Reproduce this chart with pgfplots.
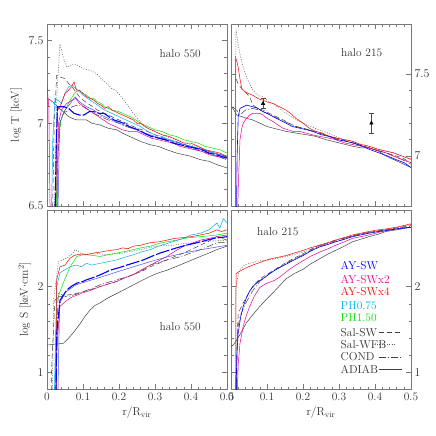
\documentclass[border=0pt]{standalone}
\usepackage{pgfplots}
\pgfplotsset{compat=1.18}

\definecolor{frame}{RGB}{120,120,120}
\definecolor{txt}{RGB}{50,50,50}

\tikzset{
  ays/.style={blue, line width=1.1pt, dash pattern=on 14pt off 2pt},
  ays2/.style={blue!70!white},
  ayx2/.style={magenta},
  ayx4/.style={red},
  ph75/.style={cyan},
  ph15/.style={green!90!black},
  salsw/.style={black!75, dash pattern=on 5pt off 3pt},
  salwfb/.style={black!65, dash pattern=on 1pt off 1.5pt},
  cond/.style={black!75, dash pattern=on 7pt off 2pt on 1pt off 2pt},
  adiab/.style={black!75},
}
\pgfplotsset{
  panel/.style={
    scale only axis, width=180bp,
    xmin=0, xmax=0.5,
    xtick={0,0.1,0.2,0.3,0.4,0.5},
    minor x tick num=4, minor y tick num=4,
    tick align=inside, xtick pos=both, ytick pos=both,
    major tick length=5bp, minor tick length=2.5bp,
    axis line style={frame, line width=0.6pt},
    tick style={frame, line width=0.5pt},
    font=\fontsize{11.5}{13}\selectfont\color{txt},
    tick label style={font=\fontsize{11.5}{13}\selectfont\color{txt}},
    unbounded coords=jump,
    every axis plot/.append style={line width=0.5pt},
  },
}

\begin{document}
\begin{tikzpicture}
\path[use as bounding box] (0,0) rectangle (436bp,-436bp);

% ---------- log T, halo 550 ----------
\begin{axis}[panel, at={(47bp,-24bp)}, anchor=north west, height=182bp,
  ymin=6.5, ymax=7.6, ytick={6.5,7,7.5}, xticklabels={},
  ylabel={log T [keV]}]
\addplot[adiab] coordinates {(0.0,7.15)(0.01,7.14)(0.02,7.12)(0.03,7.10)(0.04,7.08)(0.05,7.06)(0.06,7.04)(0.07,7.03)(0.083,7.02)(0.095,7.02)(0.11,7.02)(0.125,7.0)(0.147,6.99)(0.17,6.97)(0.194,6.96)(0.21,6.94)(0.24,6.91)(0.26,6.89)(0.287,6.87)(0.31,6.86)(0.333,6.84)(0.36,6.82)(0.38,6.81)(0.4,6.8)(0.426,6.78)(0.45,6.77)(0.472,6.75)(0.5,6.73)};
\addplot[cond] coordinates {(0.025,6.4)(0.03,6.8)(0.038,7.02)(0.045,7.06)(0.06,7.08)(0.07,7.10)(0.085,7.11)(0.1,7.1)(0.115,7.08)(0.13,7.06)(0.15,7.04)(0.17,7.02)(0.2,7.0)(0.22,6.98)(0.25,6.96)(0.28,6.93)(0.31,6.91)(0.34,6.89)(0.37,6.87)(0.4,6.85)(0.43,6.83)(0.46,6.81)(0.5,6.78)};
\addplot[salwfb] coordinates {(0.02,6.4)(0.028,7.2)(0.036,7.48)(0.045,7.40)(0.055,7.34)(0.065,7.35)(0.075,7.36)(0.085,7.35)(0.1,7.33)(0.12,7.32)(0.138,7.30)(0.15,7.27)(0.166,7.24)(0.18,7.21)(0.19,7.2)(0.203,7.17)(0.22,7.12)(0.24,7.06)(0.255,7.02)(0.27,6.98)(0.3,6.95)(0.33,6.92)(0.36,6.9)(0.4,6.87)(0.43,6.85)(0.46,6.82)(0.5,6.80)};
\addplot[salsw] coordinates {(0.015,6.4)(0.02,7.0)(0.027,7.29)(0.035,7.28)(0.05,7.27)(0.06,7.24)(0.07,7.22)(0.08,7.19)(0.09,7.16)(0.1,7.14)(0.12,7.11)(0.14,7.08)(0.16,7.06)(0.18,7.04)(0.2,7.02)(0.22,7.0)(0.25,6.97)(0.28,6.95)(0.31,6.92)(0.34,6.9)(0.37,6.88)(0.4,6.86)(0.43,6.84)(0.46,6.81)(0.5,6.78)};
\addplot[ph15] coordinates {(0.025,6.4)(0.03,6.9)(0.04,7.03)(0.05,7.08)(0.06,7.12)(0.07,7.16)(0.08,7.19)(0.09,7.2)(0.1,7.18)(0.11,7.17)(0.12,7.15)(0.13,7.15)(0.14,7.13)(0.15,7.12)(0.16,7.1)(0.18,7.08)(0.2,7.07)(0.22,7.05)(0.24,7.03)(0.26,7.0)(0.28,6.98)(0.3,6.96)(0.32,6.95)(0.34,6.93)(0.36,6.92)(0.38,6.9)(0.4,6.89)(0.42,6.88)(0.44,6.86)(0.46,6.85)(0.48,6.84)(0.5,6.82)};
\addplot[ph75] coordinates {(0.012,6.4)(0.016,6.9)(0.022,7.15)(0.03,7.14)(0.04,7.12)(0.05,7.18)(0.06,7.22)(0.07,7.23)(0.08,7.21)(0.09,7.19)(0.1,7.17)(0.12,7.14)(0.14,7.11)(0.16,7.08)(0.18,7.06)(0.2,7.04)(0.22,7.02)(0.24,7.0)(0.26,6.98)(0.28,6.95)(0.3,6.93)(0.32,6.92)(0.34,6.9)(0.36,6.89)(0.38,6.87)(0.4,6.86)(0.42,6.85)(0.44,6.84)(0.46,6.82)(0.48,6.81)(0.5,6.80)};
\addplot[ayx4] coordinates {(0.024,6.4)(0.027,6.9)(0.03,7.08)(0.04,7.12)(0.05,7.18)(0.06,7.20)(0.068,7.22)(0.075,7.25)(0.082,7.2)(0.09,7.2)(0.1,7.18)(0.11,7.16)(0.12,7.15)(0.13,7.14)(0.14,7.12)(0.15,7.11)(0.16,7.09)(0.17,7.1)(0.18,7.08)(0.19,7.07)(0.2,7.06)(0.21,7.05)(0.22,7.04)(0.23,7.03)(0.24,7.02)(0.25,7.0)(0.26,7.0)(0.28,6.97)(0.3,6.95)(0.32,6.93)(0.34,6.92)(0.36,6.90)(0.38,6.88)(0.4,6.88)(0.42,6.86)(0.44,6.84)(0.46,6.83)(0.48,6.82)(0.5,6.80)};
\addplot[ayx2] coordinates {(0,7.23)(0.005,7.1)(0.009,6.4)(0.018,nan)(0.028,6.4)(0.032,7.0)(0.04,7.08)(0.055,7.12)(0.07,7.14)(0.08,7.15)(0.09,7.12)(0.11,7.09)(0.13,7.06)(0.15,7.03)(0.17,7.0)(0.19,6.98)(0.21,6.96)(0.23,6.95)(0.25,6.95)(0.27,6.93)(0.29,6.91)(0.31,6.90)(0.33,6.89)(0.35,6.88)(0.37,6.86)(0.39,6.85)(0.41,6.84)(0.43,6.83)(0.45,6.81)(0.47,6.80)(0.5,6.79)};
\addplot[ays2] coordinates {(0.03,6.4)(0.035,7.0)(0.05,7.08)(0.065,7.12)(0.078,7.16)(0.09,7.13)(0.11,7.10)(0.13,7.08)(0.15,7.05)(0.17,7.03)(0.2,7.0)(0.23,6.98)(0.26,6.95)(0.3,6.92)(0.35,6.89)(0.4,6.86)(0.45,6.83)(0.5,6.80)};
\addplot[ays] coordinates {(0.022,6.4)(0.026,6.9)(0.029,7.10)(0.047,7.10)(0.06,7.09)(0.075,7.06)(0.09,7.05)(0.103,7.05)(0.117,7.07)(0.13,7.07)(0.145,7.06)(0.158,7.06)(0.172,7.04)(0.186,7.02)(0.2,7.01)(0.214,7.0)(0.228,6.98)(0.24,6.97)(0.255,6.96)(0.27,6.94)(0.29,6.92)(0.31,6.91)(0.33,6.90)(0.35,6.88)(0.37,6.87)(0.39,6.86)(0.41,6.85)(0.43,6.84)(0.45,6.82)(0.47,6.81)(0.5,6.79)};
\node at (axis cs:0.37,7.42) {halo 550};
\end{axis}

% ---------- log T, halo 215 ----------
\begin{axis}[panel, at={(231bp,-24bp)}, anchor=north west, height=182bp,
  ymin=6.695, ymax=7.805, ytick={7,7.5}, xticklabels={},
  yticklabel pos=right]
\addplot[adiab] coordinates {(0.002,7.30)(0.008,7.28)(0.016,7.25)(0.03,7.24)(0.043,7.23)(0.06,7.22)(0.08,7.20)(0.1,7.18)(0.117,7.17)(0.135,7.16)(0.153,7.15)(0.18,7.14)(0.208,7.13)(0.235,7.12)(0.263,7.10)(0.3,7.08)(0.337,7.06)(0.36,7.05)(0.383,7.05)(0.41,7.03)(0.43,7.0)(0.46,6.97)(0.5,6.93)};
\addplot[cond] coordinates {(0.006,7.30)(0.015,7.28)(0.025,7.25)(0.04,7.28)(0.06,7.29)(0.08,7.28)(0.1,7.26)(0.12,7.24)(0.14,7.22)(0.16,7.20)(0.18,7.18)(0.2,7.17)(0.245,7.14)(0.29,7.11)(0.337,7.08)(0.383,7.05)(0.43,7.02)(0.474,6.98)(0.5,6.95)};
\addplot[salwfb] coordinates {(0.012,6.6)(0.013,7.6)(0.014,7.77)(0.02,7.68)(0.027,7.6)(0.034,7.54)(0.045,7.47)(0.061,7.40)(0.075,7.37)(0.089,7.36)(0.1,7.34)(0.117,7.32)(0.135,7.29)(0.153,7.26)(0.175,7.23)(0.2,7.2)(0.22,7.18)(0.245,7.16)(0.27,7.14)(0.29,7.12)(0.315,7.10)(0.337,7.09)(0.36,7.07)(0.383,7.06)(0.41,7.04)(0.43,7.03)(0.45,7.02)(0.474,7.0)(0.5,6.98)};
\addplot[salsw] coordinates {(0.014,7.47)(0.02,7.44)(0.03,7.41)(0.04,7.39)(0.052,7.36)(0.061,7.31)(0.075,7.29)(0.089,7.28)(0.107,7.26)(0.126,7.24)(0.145,7.22)(0.162,7.2)(0.18,7.18)(0.2,7.17)(0.245,7.14)(0.29,7.11)(0.337,7.08)(0.383,7.05)(0.43,7.02)(0.474,6.99)(0.5,6.96)};
\addplot[ayx4] coordinates {(0.013,6.6)(0.013,7.6)(0.017,7.57)(0.02,7.54)(0.025,7.47)(0.03,7.41)(0.04,7.39)(0.05,7.38)(0.061,7.37)(0.075,7.35)(0.089,7.34)(0.1,7.33)(0.117,7.32)(0.135,7.30)(0.153,7.28)(0.165,7.26)(0.18,7.23)(0.2,7.20)(0.217,7.17)(0.235,7.15)(0.254,7.14)(0.27,7.12)(0.29,7.11)(0.315,7.10)(0.337,7.09)(0.36,7.07)(0.383,7.06)(0.41,7.04)(0.43,7.03)(0.45,7.02)(0.474,7.0)(0.5,6.98)};
\addplot[ayx2] coordinates {(0.018,6.6)(0.02,6.8)(0.025,7.10)(0.03,7.17)(0.034,7.2)(0.043,7.23)(0.052,7.25)(0.061,7.26)(0.071,7.26)(0.08,7.26)(0.089,7.25)(0.1,7.23)(0.117,7.21)(0.13,7.19)(0.144,7.17)(0.158,7.16)(0.172,7.15)(0.19,7.15)(0.208,7.14)(0.225,7.13)(0.245,7.12)(0.27,7.11)(0.29,7.10)(0.315,7.08)(0.337,7.07)(0.36,7.06)(0.383,7.05)(0.41,7.03)(0.43,7.02)(0.45,7.0)(0.474,6.98)(0.5,6.96)};
\addplot[blue, line width=0.6pt] coordinates {(0.015,6.6)(0.017,7.0)(0.02,7.24)(0.025,7.29)(0.034,7.30)(0.043,7.31)(0.061,7.30)(0.075,7.29)(0.089,7.27)(0.1,7.26)(0.117,7.24)(0.135,7.22)(0.153,7.20)(0.17,7.18)(0.19,7.17)(0.21,7.16)(0.227,7.15)(0.25,7.13)(0.272,7.12)(0.295,7.10)(0.318,7.09)(0.34,7.08)(0.364,7.06)(0.385,7.04)(0.41,7.02)(0.435,7.0)(0.456,6.98)(0.48,6.96)(0.5,6.93)};
\addplot[black, only marks, mark=triangle*, mark size=2pt,
  error bars/.cd, y dir=both, y explicit,
  error bar style={black!70, line width=0.5pt}, error mark options={rotate=90, mark size=2.5pt, black!70}]
  coordinates {(0.089,7.32) +- (0,0.03) (0.39,7.20) +- (0,0.06)};
\node at (axis cs:0.363,7.63) {halo 215};
\end{axis}

% ---------- log S, halo 550 ----------
\begin{axis}[panel, at={(47bp,-210bp)}, anchor=north west, height=179bp,
  ymin=0.81, ymax=2.89, ytick={1,2},
  xticklabels={0,0.1,0.2,0.3,0.4,0.5}, xticklabel pos=lower,
  ylabel={log S [keV$\cdot$cm$^2$]}, xlabel={r/R$_{\mathrm{vir}}$}]
\addplot[adiab] coordinates {(0,1.32)(0.02,1.33)(0.045,1.34)(0.055,1.38)(0.064,1.42)(0.078,1.49)(0.092,1.57)(0.105,1.65)(0.12,1.73)(0.133,1.78)(0.147,1.81)(0.17,1.87)(0.194,1.92)(0.217,1.97)(0.24,2.02)(0.263,2.07)(0.287,2.12)(0.31,2.16)(0.333,2.19)(0.357,2.23)(0.38,2.27)(0.403,2.31)(0.426,2.35)(0.45,2.39)(0.472,2.43)(0.5,2.47)};
\addplot[cond] coordinates {(0.025,0.7)(0.03,1.8)(0.032,1.92)(0.055,1.88)(0.08,1.91)(0.1,1.94)(0.125,1.98)(0.147,2.02)(0.17,2.05)(0.194,2.08)(0.22,2.11)(0.24,2.14)(0.265,2.19)(0.287,2.25)(0.31,2.28)(0.333,2.31)(0.355,2.33)(0.38,2.36)(0.4,2.39)(0.426,2.43)(0.45,2.47)(0.472,2.51)(0.5,2.51)};
\addplot[salwfb] coordinates {(0.015,0.7)(0.018,1.84)(0.032,2.29)(0.055,2.33)(0.07,2.38)(0.078,2.43)(0.09,2.40)(0.1,2.37)(0.115,2.38)(0.13,2.39)(0.15,2.38)(0.166,2.37)(0.19,2.38)(0.21,2.39)(0.235,2.41)(0.26,2.43)(0.28,2.45)(0.305,2.47)(0.33,2.48)(0.35,2.48)(0.38,2.50)(0.426,2.52)(0.46,2.53)(0.5,2.54)};
\addplot[salsw] coordinates {(0.012,0.7)(0.013,1.07)(0.022,1.84)(0.032,1.88)(0.055,1.90)(0.08,1.92)(0.1,1.94)(0.125,1.97)(0.147,2.0)(0.17,2.03)(0.194,2.06)(0.215,2.10)(0.24,2.14)(0.265,2.18)(0.287,2.23)(0.31,2.27)(0.333,2.31)(0.355,2.35)(0.38,2.39)(0.4,2.43)(0.426,2.48)(0.45,2.53)(0.472,2.58)(0.5,2.54)};
\addplot[ph15] coordinates {(0.022,0.7)(0.027,1.84)(0.045,2.04)(0.064,2.23)(0.083,2.35)(0.1,2.37)(0.11,2.37)(0.13,2.36)(0.147,2.35)(0.17,2.37)(0.194,2.39)(0.22,2.41)(0.24,2.43)(0.26,2.45)(0.287,2.47)(0.31,2.5)(0.333,2.52)(0.36,2.54)(0.38,2.56)(0.4,2.57)(0.426,2.58)(0.45,2.59)(0.472,2.60)(0.5,2.62)};
\addplot[ph75] coordinates {(0.02,0.7)(0.027,2.0)(0.036,2.16)(0.055,2.21)(0.07,2.24)(0.083,2.25)(0.095,2.23)(0.11,2.27)(0.125,2.25)(0.147,2.27)(0.17,2.29)(0.194,2.31)(0.215,2.34)(0.24,2.37)(0.26,2.4)(0.287,2.43)(0.31,2.47)(0.333,2.5)(0.355,2.53)(0.38,2.56)(0.4,2.6)(0.426,2.62)(0.45,2.66)(0.472,2.74)(0.48,2.68)(0.49,2.79)(0.5,2.74)};
\addplot[ayx4] coordinates {(0.024,0.7)(0.027,2.08)(0.036,2.23)(0.05,2.25)(0.064,2.33)(0.075,2.36)(0.083,2.37)(0.1,2.38)(0.11,2.37)(0.13,2.39)(0.147,2.40)(0.16,2.41)(0.175,2.42)(0.194,2.43)(0.21,2.45)(0.225,2.44)(0.24,2.47)(0.26,2.48)(0.287,2.51)(0.31,2.52)(0.333,2.54)(0.355,2.56)(0.38,2.57)(0.4,2.58)(0.426,2.60)(0.45,2.62)(0.472,2.66)(0.485,2.64)(0.5,2.66)};
\addplot[ayx2] coordinates {(0.026,0.7)(0.027,1.26)(0.036,1.77)(0.055,1.84)(0.07,1.88)(0.083,1.90)(0.1,1.93)(0.11,1.94)(0.13,1.97)(0.147,2.0)(0.17,2.03)(0.194,2.06)(0.215,2.10)(0.24,2.14)(0.26,2.19)(0.287,2.25)(0.31,2.30)(0.333,2.35)(0.355,2.41)(0.38,2.47)(0.4,2.50)(0.426,2.54)(0.45,2.56)(0.472,2.58)(0.5,2.60)};
\addplot[ays2] coordinates {(0.03,0.7)(0.035,1.8)(0.05,1.93)(0.08,2.02)(0.11,2.06)(0.15,2.11)(0.194,2.17)(0.24,2.23)(0.287,2.29)(0.33,2.34)(0.38,2.39)(0.43,2.43)(0.5,2.48)};
\addplot[ays] coordinates {(0.025,0.7)(0.027,1.46)(0.036,1.84)(0.055,1.96)(0.07,2.01)(0.083,2.04)(0.1,2.06)(0.11,2.08)(0.125,2.10)(0.138,2.12)(0.155,2.15)(0.175,2.19)(0.2,2.22)(0.222,2.25)(0.245,2.28)(0.268,2.31)(0.29,2.35)(0.314,2.39)(0.337,2.42)(0.36,2.45)(0.385,2.48)(0.407,2.50)(0.435,2.53)(0.463,2.56)(0.5,2.58)};
\node at (axis cs:0.37,1.535) {halo 550};
\end{axis}

% ---------- log S, halo 215 ----------
\begin{axis}[panel, at={(231bp,-210bp)}, anchor=north west, height=179bp,
  ymin=0.81, ymax=2.89, ytick={1,2}, yticklabel pos=right,
  xticklabels={0,0.1,0.2,0.3,0.4,0.5}, xticklabel pos=lower,
  xlabel={r/R$_{\mathrm{vir}}$}]
\addplot[adiab] coordinates {(0.0,1.30)(0.008,1.33)(0.016,1.38)(0.03,1.48)(0.043,1.58)(0.06,1.67)(0.08,1.77)(0.1,1.86)(0.117,1.93)(0.135,2.01)(0.153,2.09)(0.175,2.15)(0.2,2.20)(0.22,2.26)(0.245,2.32)(0.27,2.38)(0.29,2.42)(0.315,2.47)(0.337,2.52)(0.36,2.55)(0.383,2.58)(0.41,2.61)(0.43,2.64)(0.46,2.66)(0.5,2.69)};
\addplot[cond] coordinates {(0.015,0.7)(0.018,1.5)(0.025,1.65)(0.04,1.80)(0.06,1.95)(0.08,2.06)(0.107,2.15)(0.13,2.21)(0.153,2.27)(0.2,2.37)(0.245,2.47)(0.29,2.53)(0.337,2.59)(0.383,2.63)(0.43,2.66)(0.5,2.70)};
\addplot[salwfb] coordinates {(0.013,0.7)(0.014,2.01)(0.02,2.13)(0.025,2.20)(0.035,2.24)(0.043,2.26)(0.06,2.28)(0.08,2.30)(0.107,2.31)(0.13,2.33)(0.153,2.35)(0.18,2.38)(0.2,2.40)(0.245,2.46)(0.29,2.52)(0.337,2.58)(0.383,2.63)(0.43,2.66)(0.5,2.72)};
\addplot[salsw] coordinates {(0.015,0.7)(0.017,1.4)(0.02,1.69)(0.034,1.81)(0.05,1.93)(0.061,2.01)(0.08,2.09)(0.107,2.16)(0.13,2.22)(0.153,2.28)(0.175,2.33)(0.2,2.38)(0.22,2.43)(0.245,2.48)(0.27,2.51)(0.29,2.54)(0.337,2.59)(0.383,2.63)(0.43,2.66)(0.5,2.71)};
\addplot[ayx4] coordinates {(0.013,0.7)(0.014,2.15)(0.025,2.18)(0.043,2.22)(0.06,2.25)(0.08,2.28)(0.107,2.32)(0.13,2.34)(0.153,2.36)(0.175,2.39)(0.2,2.42)(0.22,2.45)(0.245,2.48)(0.27,2.51)(0.29,2.54)(0.315,2.57)(0.337,2.60)(0.36,2.62)(0.383,2.64)(0.41,2.66)(0.43,2.67)(0.46,2.69)(0.5,2.73)};
\addplot[ayx2] coordinates {(0.017,0.7)(0.02,1.1)(0.025,1.34)(0.034,1.54)(0.043,1.67)(0.052,1.77)(0.065,1.89)(0.08,1.99)(0.095,2.03)(0.107,2.05)(0.12,2.07)(0.135,2.11)(0.15,2.16)(0.162,2.20)(0.18,2.25)(0.2,2.30)(0.22,2.35)(0.245,2.40)(0.27,2.44)(0.29,2.48)(0.315,2.52)(0.337,2.56)(0.36,2.58)(0.383,2.60)(0.41,2.63)(0.43,2.65)(0.46,2.67)(0.5,2.69)};
\addplot[blue, line width=0.6pt] coordinates {(0.014,0.7)(0.016,1.2)(0.02,1.46)(0.027,1.65)(0.034,1.77)(0.043,1.87)(0.052,1.95)(0.065,2.02)(0.08,2.07)(0.095,2.11)(0.107,2.15)(0.13,2.21)(0.153,2.26)(0.175,2.31)(0.2,2.36)(0.22,2.41)(0.245,2.46)(0.27,2.49)(0.29,2.52)(0.315,2.55)(0.337,2.58)(0.36,2.60)(0.383,2.62)(0.41,2.64)(0.43,2.65)(0.46,2.67)(0.5,2.69)};
\node at (axis cs:0.13,2.635) {halo 215};
% legend
\node[anchor=west, text=blue] at (axis cs:0.295,2.243) {AY-SW};
\node[anchor=west, text=magenta] at (axis cs:0.295,2.086) {AY-SWx2};
\node[anchor=west, text=red] at (axis cs:0.295,1.937) {AY-SWx4};
\node[anchor=west, text=cyan] at (axis cs:0.295,1.78) {PH0.75};
\node[anchor=west, text=green!90!black] at (axis cs:0.295,1.635) {PH1.50};
\node[anchor=west] at (axis cs:0.295,1.47) {Sal-SW};
\node[anchor=west] at (axis cs:0.295,1.33) {Sal-WFB};
\node[anchor=west] at (axis cs:0.295,1.184) {COND};
\node[anchor=west] at (axis cs:0.295,1.035) {ADIAB};
\draw[salsw] (axis cs:0.41,1.47) -- (axis cs:0.47,1.47);
\draw[salwfb] (axis cs:0.405,1.33) -- (axis cs:0.455,1.33);
\draw[cond] (axis cs:0.41,1.184) -- (axis cs:0.475,1.184);
\draw[adiab] (axis cs:0.41,1.035) -- (axis cs:0.475,1.035);
\end{axis}
\end{tikzpicture}
\end{document}
